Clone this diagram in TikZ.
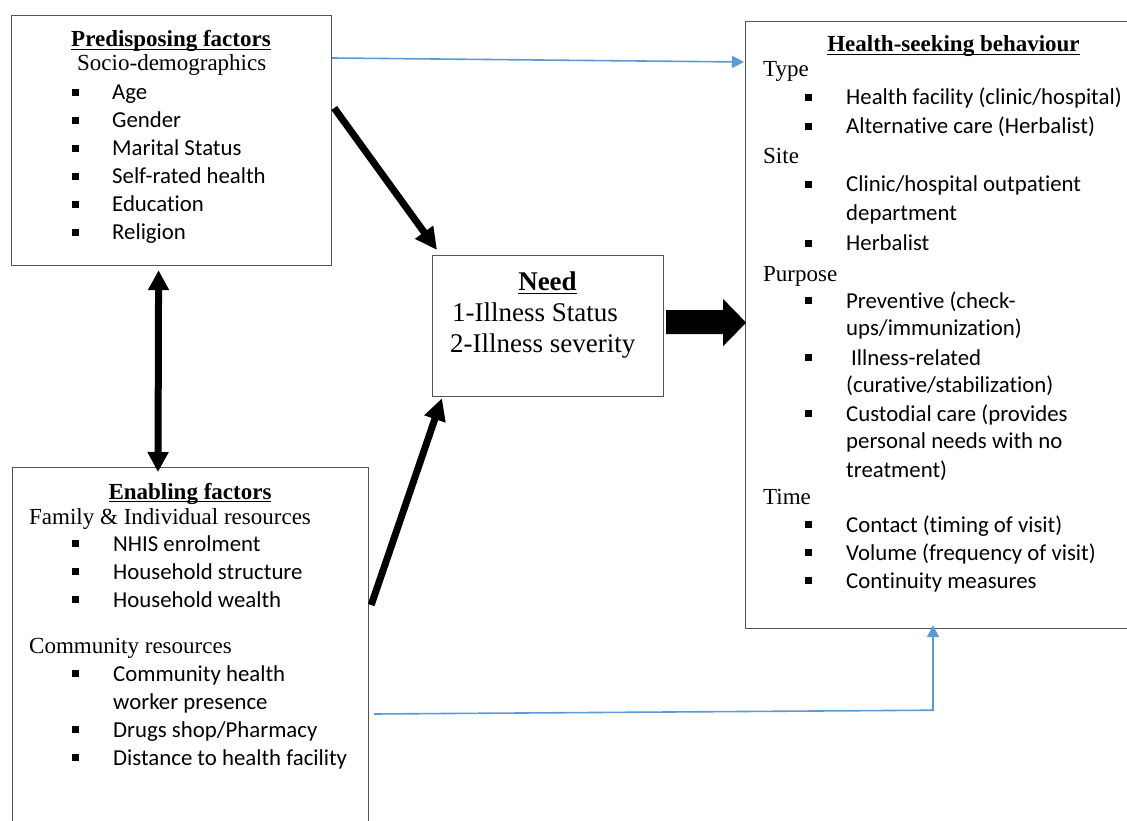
\documentclass[tikz,border=0pt]{standalone}
\usepackage{fontspec}
\setmainfont{Liberation Serif}
\newfontfamily\calfont[Ligatures=NoCommon]{Carlito}
\usetikzlibrary{arrows.meta,calc}
\definecolor{blueline}{HTML}{5B9BD5}
\definecolor{boxgray}{HTML}{555555}
\newsavebox\ulbox
\newcommand\myul[2]{\sbox\ulbox{#2}\rlap{\rule[-#1]{\wd\ulbox}{1.4pt}}\usebox\ulbox}
\tikzset{
 frame/.style={draw=boxgray, line width=1.2pt, anchor=north west, inner sep=0pt},
 serif/.style={anchor=base west, inner sep=0pt, font=\fontsize{23}{28}\selectfont},
 head/.style={anchor=base, inner sep=0pt, font=\fontsize{23}{28}\selectfont\bfseries},
 sans/.style={anchor=base west, inner sep=0pt, font=\calfont\fontsize{22.8}{28}\selectfont},
 bulsq/.style={fill=black, minimum size=7pt, inner sep=0pt, anchor=center},
 bigarrow/.style={line width=7pt, -{Triangle[width=21pt,length=22pt]}},
 dblarrow/.style={line width=7pt, {Triangle[width=20pt,length=20pt]}-{Triangle[width=20pt,length=20pt]}},
 bluearrow/.style={draw=blueline, line width=1.6pt, -{Triangle[width=12pt,length=12pt]}},
}
\newcommand\bitem[5]{\node[bulsq] (#1b) at (#2,#4-7.5) {}; \node[sans] (#1) at (#3,#4) {#5};}
\begin{document}
\begin{tikzpicture}[x=1pt,y=-1pt]
\useasboundingbox (0,0) rectangle (1127,821);
\clip (0,0) rectangle (1127,821);
\fill[white] (0,0) rectangle (1127,821);
% boxes
\node[frame, minimum width=320pt, minimum height=250pt] (pre) at (11,15) {};
\node[frame, minimum width=390pt, minimum height=607pt] (hs) at (745,21) {};
\node[frame, minimum width=356pt, minimum height=380pt] (ena) at (12,467) {};
\node[frame, minimum width=231pt, minimum height=141pt] (need) at (432,255) {};
% predisposing
\node[head] (preh) at (171,47) {\myul{3pt}{Predisposing factors}};
\node[serif] (socio) at (77,71) {Socio-demographics};
\bitem{p1}{75}{112}{100}{Age}
\bitem{p2}{75}{112}{128}{Gender}
\bitem{p3}{75}{112}{156}{Marital Status}
\bitem{p4}{75}{112}{184}{Self-rated health}
\bitem{p5}{75}{112}{212}{Education}
\bitem{p6}{75}{112}{240}{Religion}
% health-seeking
\node[head] (hsh) at (953.5,52) {\myul{3pt}{Health-seeking behaviour}};
\node[serif] (type) at (763,77) {Type};
\bitem{h1}{808}{846}{105}{Health facility (clinic/hospital)}
\bitem{h2}{808}{846}{134}{Alternative care (Herbalist)}
\node[serif] (site) at (763,164) {Site};
\bitem{h3}{808}{846}{192}{Clinic/hospital outpatient}
\node[sans] (h3b2) at (846,221) {department};
\bitem{h4}{808}{846}{251}{Herbalist}
\node[serif] (purp) at (763,281) {Purpose};
\bitem{h5}{808}{846}{308}{Preventive (check-}
\node[sans] (h5b2) at (846,335) {ups/immunization)};
\bitem{h6}{808}{851}{365}{Illness-related}
\node[sans] (h6b2) at (846,392) {(curative/stabilization)};
\bitem{h7}{808}{846}{421}{Custodial care (provides}
\node[sans] (h7b2) at (846,448) {personal needs with no};
\node[sans] (h7b3) at (846,477) {treatment)};
\node[serif] (time) at (763,504) {Time};
\bitem{h8}{808}{846}{532}{Contact (timing of visit)}
\bitem{h9}{808}{846}{560}{Volume (frequency of visit)}
\bitem{h10}{808}{846}{588}{Continuity measures}
% enabling
\node[head] (enah) at (190,499) {\myul{3pt}{Enabling factors}};
\node[serif] (fam) at (29,524) {Family \& Individual resources};
\bitem{e1}{75}{113}{551}{NHIS enrolment}
\bitem{e2}{75}{113}{579}{Household structure}
\bitem{e3}{75}{113}{607}{Household wealth}
\node[serif] (comm) at (29,653) {Community resources};
\bitem{e4}{75}{113}{681}{Community health}
\node[sans] (e4b2) at (113,709) {worker presence};
\bitem{e5}{75}{113}{737}{Drugs shop/Pharmacy}
\bitem{e6}{75}{113}{765}{Distance to health facility}
% need
\node[head, font=\fontsize{27}{32}\selectfont\bfseries] (needh) at (547.5,290) {\myul{4pt}{Need}};
\node[serif, font=\fontsize{27}{32}\selectfont] (n1) at (452,321) {1-Illness Status};
\node[serif, font=\fontsize{27}{32}\selectfont] (n2) at (450,352) {2-Illness severity};
% connectors
\draw[bluearrow] ([yshift=-43pt]pre.north east) -- ([shift={(-1,41)}]hs.north west);
\draw[bigarrow] ([shift={(2,93)}]pre.north east) -- ([shift={(5,-5)}]need.north west);
\draw[dblarrow] ([shift={(-13,4)}]pre.south) -- ([shift={(146,5)}]ena.north west);
\draw[bigarrow] ([shift={(2,138)}]ena.north east) -- ([shift={(10,1)}]need.south west);
\fill (need.east) ++(2,-16) -- ++(57,0) -- ++(0,-11) -- ++(23,23.5) -- ++(-23,23.5) -- ++(0,-12) -- ++(-57,0) -- cycle;
\coordinate (bstart) at ([shift={(5,247)}]ena.north east);
\coordinate (bcorner) at ([shift={(188,81)}]hs.south west);
\draw[bluearrow] (bstart) -- (bcorner) -- ([shift={(188,-4)}]hs.south west);
\end{tikzpicture}
\end{document}
